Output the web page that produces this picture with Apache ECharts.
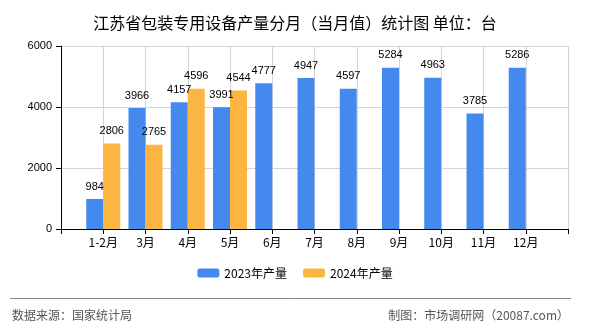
<!DOCTYPE html>
<html>
<head>
<meta charset="utf-8">
<script src="https://cdn.jsdelivr.net/npm/echarts@6/dist/echarts.min.js"></script>
<style>
html,body{margin:0;padding:0;background:#fff;}
#c{width:590px;height:330px;}
</style>
</head>
<body>
<div id="c"></div>
<script>
var months = ['1-2月','3月','4月','5月','6月','7月','8月','9月','10月','11月','12月'];
var y2023 = [984, 3966, 4157, 3991, 4777, 4947, 4597, 5284, 4963, 3785, 5286];
var y2024 = [2806, 2765, 4596, 4544];
var yTicks = [0, 2000, 4000, 6000];
var seriesNames = ['2023年产量', '2024年产量'];
var titleText = '江苏省包装专用设备产量分月（当月值）统计图 单位：台';
var sourceText = '数据来源：国家统计局';
var makerText = '制图：市场调研网（20087.com）';

var axisCats = [''].concat(months).concat(['']);
function pad(arr) {
  var out = [null];
  for (var i = 0; i < months.length; i++) out.push(i < arr.length ? arr[i] : null);
  out.push(null);
  return out;
}

var cjk = '"Noto Sans CJK SC", sans-serif';
var num = '"Liberation Sans", sans-serif';
var chart = echarts.init(document.getElementById('c'), null, {renderer: 'canvas'});
chart.setOption({
  animation: false,
  backgroundColor: '#fff',
  title: {
    text: titleText, left: 'center', top: 10,
    textStyle: {fontSize: 16, fontWeight: 'normal', color: '#000', fontFamily: cjk}
  },
  grid: {left: 61, right: 22, top: 46, bottom: 101, containLabel: false},
  legend: {
    data: seriesNames, bottom: 46, left: 'center', itemWidth: 22, itemHeight: 9, itemGap: 16,
    textStyle: {fontSize: 12, color: '#000', fontFamily: cjk}
  },
  xAxis: {
    type: 'category', data: axisCats, boundaryGap: false,
    axisLine: {lineStyle: {color: '#000', width: 1}},
    axisTick: {show: true, interval: 0, length: 5, lineStyle: {color: '#000'}},
    axisLabel: {interval: 0, color: '#000', fontSize: 12, margin: 7, fontFamily: cjk},
    splitLine: {show: true, interval: 0, lineStyle: {color: '#d4d4d4', width: 1}}
  },
  yAxis: {
    type: 'value', min: yTicks[0], max: yTicks[yTicks.length - 1], interval: yTicks[1] - yTicks[0],
    axisLine: {show: true, lineStyle: {color: '#000', width: 1}},
    axisTick: {show: true, length: 5, lineStyle: {color: '#000'}},
    axisLabel: {color: '#000', fontSize: 11, margin: 9, fontFamily: num, formatter: function (v) { return String(v); }},
    splitLine: {show: true, lineStyle: {color: '#d4d4d4', width: 1}}
  },
  series: [
    {
      name: seriesNames[0], type: 'bar', data: pad(y2023), barWidth: 17, barGap: '0%',
      itemStyle: {color: '#448AEE'},
      label: {show: true, position: 'top', distance: 7, color: '#000', fontSize: 11, fontFamily: num}
    },
    {
      name: seriesNames[1], type: 'bar', data: pad(y2024), barWidth: 17, barGap: '0%',
      itemStyle: {color: '#FBB540'},
      label: {show: true, position: 'top', distance: 7, color: '#000', fontSize: 11, fontFamily: num}
    }
  ],
  graphic: [
    {type: 'line', shape: {x1: 10, y1: 298.5, x2: 571, y2: 298.5}, style: {stroke: '#888', lineWidth: 1}},
    {type: 'text', left: 12, top: 309, style: {text: sourceText, fill: '#555', fontSize: 12, fontFamily: cjk}},
    {type: 'text', right: 21, top: 309, style: {text: makerText, fill: '#555', fontSize: 12, fontFamily: cjk}}
  ]
});
</script>
</body>
</html>
